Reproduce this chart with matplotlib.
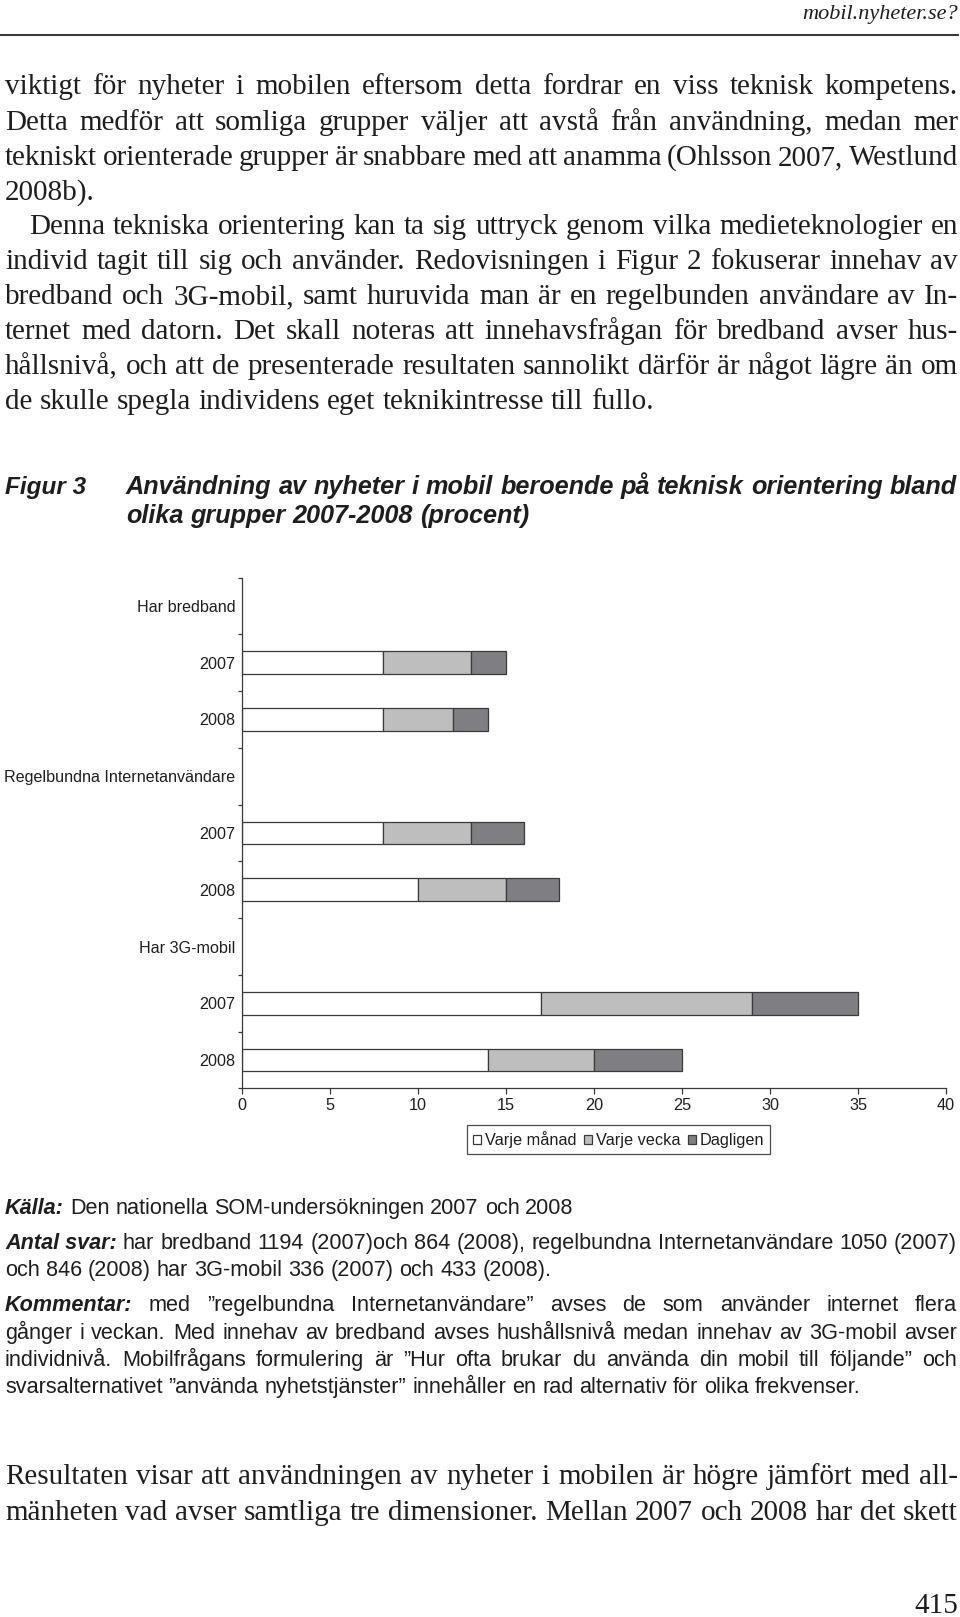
import matplotlib
matplotlib.use('Agg')
import matplotlib.pyplot as plt
import numpy as np

# chart data (procent)
categories = [
    'Har bredband', '2007', '2008',
    'Regelbundna Internetanvändare', '2007', '2008',
    'Har 3G-mobil', '2007', '2008',
]
varje_manad = [None, 8, 8, None, 8, 10, None, 17, 14]
varje_vecka = [None, 5, 4, None, 5, 5, None, 12, 6]
dagligen = [None, 2, 2, None, 3, 3, None, 6, 5]
series_labels = ['Varje månad', 'Varje vecka', 'Dagligen']
x_ticks = [0, 5, 10, 15, 20, 25, 30, 35, 40]

# page text
header = 'mobil.nyheter.se?'
body_lines = [
    ('viktigt för nyheter i mobilen eftersom detta fordrar en viss teknisk kompetens.', True),
    ('Detta medför att somliga grupper väljer att avstå från användning, medan mer', True),
    ('tekniskt orienterade grupper är snabbare med att anamma (Ohlsson 2007, Westlund', True),
    ('2008b).', False),
    ('Denna tekniska orientering kan ta sig uttryck genom vilka medieteknologier en', True),
    ('individ tagit till sig och använder. Redovisningen i Figur 2 fokuserar innehav av', True),
    ('bredband och 3G-mobil, samt huruvida man är en regelbunden användare av In-', True),
    ('ternet med datorn. Det skall noteras att innehavsfrågan för bredband avser hus-', True),
    ('hållsnivå, och att de presenterade resultaten sannolikt därför är något lägre än om', True),
    ('de skulle spegla individens eget teknikintresse till fullo.', False),
]
caption_label = 'Figur 3'
caption_lines = [
    'Användning av nyheter i mobil beroende på teknisk orientering bland',
    'olika grupper 2007-2008 (procent)',
]
note_lines = [
    ('Källa:', 'Den nationella SOM-undersökningen 2007 och 2008', False),
    ('Antal svar:', 'har bredband 1194 (2007)och 864 (2008), regelbundna Internetanvändare 1050 (2007)', True),
    ('', 'och 846 (2008) har 3G-mobil 336 (2007) och 433 (2008).', False),
    ('Kommentar:', 'med ”regelbundna Internetanvändare” avses de som använder internet flera', True),
    ('', 'gånger i veckan. Med innehav av bredband avses hushållsnivå medan innehav av 3G-mobil avser', True),
    ('', 'individnivå. Mobilfrågans formulering är ”Hur ofta brukar du använda din mobil till följande” och', True),
    ('', 'svarsalternativet ”använda nyhetstjänster” innehåller en rad alternativ för olika frekvenser.', False),
]
closing_lines = [
    ('Resultaten visar att användningen av nyheter i mobilen är högre jämfört med all-', True),
    ('mänheten vad avser samtliga tre dimensioner. Mellan 2007 och 2008 har det skett', True),
]
page_number = '415'

SERIF = 'Liberation Serif'
SANS = 'Liberation Sans'
INK = '#1e1e1e'
W, H = 960, 1617

fig = plt.figure(figsize=(W / 100, H / 100), dpi=100)
page = fig.add_axes([0, 0, 1, 1])
page.set_xlim(0, W)
page.set_ylim(H, 0)
page.axis('off')
renderer = fig.canvas.get_renderer()


def text_width(s, **kw):
    t = page.text(0, 0, s, **kw)
    w = t.get_window_extent(renderer).width
    t.remove()
    return w


def put_line(tokens, x0, x1, y, size, justify, min_ratio=0.5):
    # tokens: list of (word, style dict); drawn word by word so the line can be justified
    fam = tokens[-1][1]['family']
    space = text_width('a a', fontsize=size, family=fam) - text_width('aa', fontsize=size, family=fam)
    widths = [text_width(w, fontsize=size, **st) for w, st in tokens]
    total = sum(widths)
    n = len(tokens)
    target = x1 - x0
    min_gap = min_ratio * space
    if total + min_gap * (n - 1) > target:
        size = size * target / (total + min_gap * (n - 1))
        return put_line(tokens, x0, x1, y, size, justify, min_ratio)
    gap = (target - total) / (n - 1) if (justify and n > 1) else space
    x = x0
    for (w, st), wd in zip(tokens, widths):
        page.text(x, y, w, fontsize=size, color=INK, va='baseline', ha='left', **st)
        x += wd + gap
    return size


serif = {'family': SERIF}
sans = {'family': SANS}
sans_bi = {'family': SANS, 'weight': 'bold', 'style': 'italic'}

# header
page.text(958, 19, header, fontsize=16, family=SERIF, style='italic', color=INK,
          ha='right', va='baseline')
page.plot([0, 958], [35, 35], color='#3a3a3a', lw=1.5)

# body
body_base = [94, 130, 165, 200, 234, 269, 304, 339, 374, 409]
for i, ((line, just), yb) in enumerate(zip(body_lines, body_base)):
    x0 = 29 if i == 4 else 5
    put_line([(w, serif) for w in line.split(' ')], x0, 958, yb, 21, just)

# caption
page.text(5, 494, caption_label, fontsize=17.5, color=INK, va='baseline', **sans_bi)
cap_size = put_line([(w, sans_bi) for w in caption_lines[0].split(' ')], 126, 957, 494, 18.2, True, 0.45)
put_line([(w, sans_bi) for w in caption_lines[1].split(' ')], 126, 957, 523, cap_size, False)

# notes
note_base = [1214, 1249, 1276, 1311, 1339, 1366, 1393]
for (lead, rest, just), yb in zip(note_lines, note_base):
    tokens = [(lead, sans_bi)] if lead else []
    tokens += [(w, sans) for w in rest.split(' ')]
    put_line(tokens, 5, 957, yb, 15.6, just, 0.4)

# closing paragraph
for (line, just), yb in zip(closing_lines, [1484, 1520]):
    put_line([(w, serif) for w in line.split(' ')], 5, 958, yb, 21, just)

page.text(958, 1613, page_number, fontsize=21, family=SERIF, color=INK,
          ha='right', va='baseline')

# chart
ax = fig.add_axes([242 / W, 1 - 1088.4 / H, (946 - 242) / W, (1088.4 - 577.6) / H])
ypos = np.arange(len(categories))
rows = [i for i, v in enumerate(varje_manad) if v is not None]
m = np.array([varje_manad[i] for i in rows], dtype=float)
v = np.array([varje_vecka[i] for i in rows], dtype=float)
d = np.array([dagligen[i] for i in rows], dtype=float)
edge = '#3a3a3a'
bar_h = 0.4
ax.barh(ypos[rows], m, height=bar_h, color='white', edgecolor=edge, lw=0.9, label=series_labels[0])
ax.barh(ypos[rows], v, left=m, height=bar_h, color='#bebebe', edgecolor=edge, lw=0.9, label=series_labels[1])
ax.barh(ypos[rows], d, left=m + v, height=bar_h, color='#7f7f83', edgecolor=edge, lw=0.9, label=series_labels[2])

ax.set_xlim(0, 40)
ax.set_ylim(len(categories) - 0.5, -0.5)
ax.set_xticks(x_ticks)
ax.set_yticks(ypos)
ax.set_yticklabels(categories)
ax.set_yticks(np.arange(len(categories) + 1) - 0.5, minor=True)
ax.tick_params(axis='y', which='major', length=0, pad=4.6, labelsize=11.6, labelcolor=INK)
ax.tick_params(axis='y', which='minor', length=3, width=0.9, color=edge)
ax.tick_params(axis='x', length=4.5, width=0.9, color=edge, pad=2.5, labelsize=11.7, labelcolor=INK)
for lab in ax.get_xticklabels() + ax.get_yticklabels():
    lab.set_family(SANS)
for side in ['top', 'right']:
    ax.spines[side].set_visible(False)
for side in ['left', 'bottom']:
    ax.spines[side].set_color(edge)
    ax.spines[side].set_linewidth(0.9)
ax.set_facecolor('none')

leg = ax.legend(loc='center', bbox_to_anchor=(618.5 / W, 1 - 1139.5 / H),
                bbox_transform=fig.transFigure, ncol=3, frameon=True, fancybox=False,
                prop={'family': SANS, 'size': 11.7}, handlelength=0.5, handleheight=0.5,
                handletextpad=0.25, columnspacing=0.45, borderpad=0.35, borderaxespad=0)
leg.get_frame().set_edgecolor('#222222')
leg.get_frame().set_linewidth(0.9)
for t in leg.get_texts():
    t.set_color(INK)

fig.savefig('out.png', dpi=100)
